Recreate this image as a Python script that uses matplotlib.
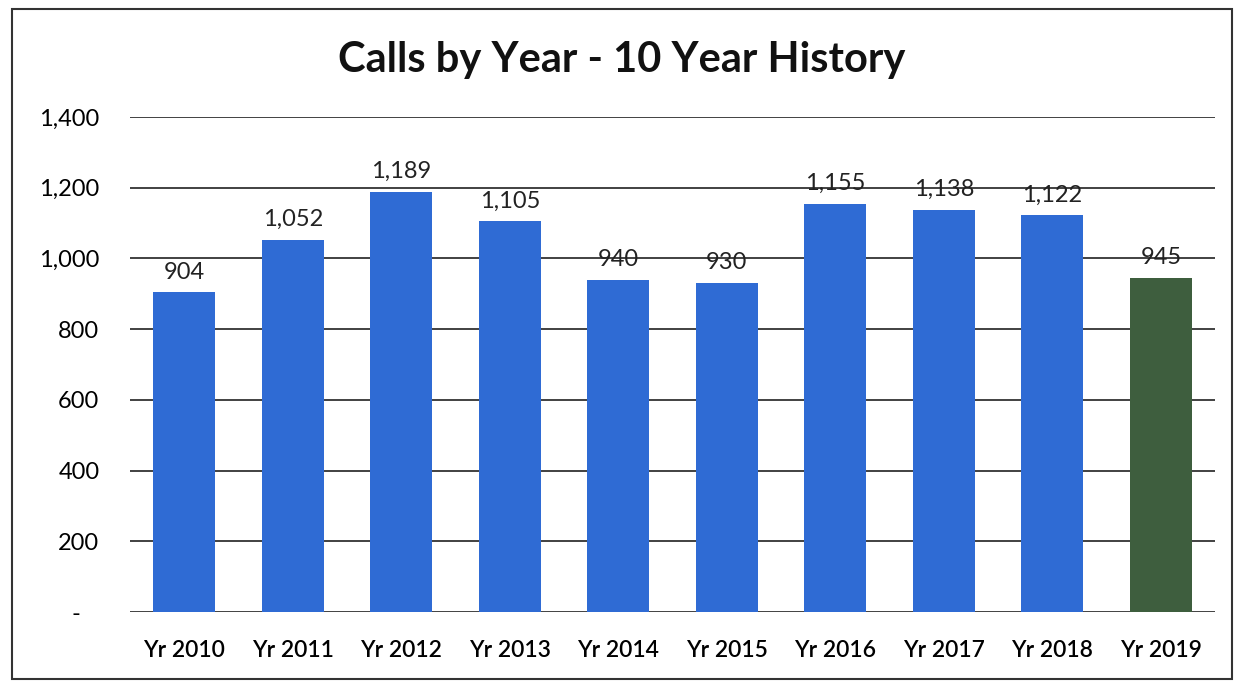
import matplotlib
matplotlib.use("Agg")
import matplotlib.pyplot as plt
from matplotlib.patches import Rectangle
from matplotlib.ticker import FuncFormatter
from matplotlib.transforms import ScaledTranslation

categories = ["Yr 2010", "Yr 2011", "Yr 2012", "Yr 2013", "Yr 2014",
              "Yr 2015", "Yr 2016", "Yr 2017", "Yr 2018", "Yr 2019"]
calls = [904, 1052, 1189, 1105, 940, 930, 1155, 1138, 1122, 945]
bar_colors = ["#2f6bd4"] * 9 + ["#3e5e3e"]
yticks = [0, 200, 400, 600, 800, 1000, 1200, 1400]

plt.rcParams['font.family'] = ['Lato', 'DejaVu Sans']

fig = plt.figure(figsize=(12.43, 6.87), dpi=100)
ax = fig.add_axes([0.1046, 0.109, 0.873, 0.7207])

x = range(len(categories))
ax.bar(x, calls, width=0.57, color=bar_colors, zorder=3)
for xi, v in zip(x, calls):
    ax.text(xi, v + 28, f"{v:,}", ha="center", va="bottom", fontsize=17, color="#222222", zorder=4)

ax.set_xlim(-0.5, len(categories) - 0.5)
ax.set_ylim(0, 1400)
ax.set_yticks(yticks)
ax.yaxis.set_major_formatter(FuncFormatter(lambda v, p: "-" if v == 0 else f"{int(v):,}"))
ax.set_xticks(list(x))
ax.set_xticklabels(categories, fontsize=16.5, fontweight="semibold")
ax.tick_params(axis="y", labelsize=17, length=0, pad=22)
ax.tick_params(axis="x", length=0, pad=20)
ax.grid(axis="y", color="#333333", linewidth=1.3, zorder=0)
for s in ax.spines.values():
    s.set_visible(False)

# accounting-style dash for zero sits left of the right-aligned numbers
zero_lbl = ax.yaxis.get_major_ticks()[0].label1
zero_lbl.set_transform(zero_lbl.get_transform() + ScaledTranslation(-14 / 72, 0, fig.dpi_scale_trans))

fig.text(0.5, 0.912, "Calls by Year - 10 Year History", ha="center", va="center",
         fontsize=30, fontweight="bold", color="#111111")

fig.patches.append(Rectangle((12 / 1243, 8 / 687), 1220 / 1243, 670 / 687,
                             transform=fig.transFigure, fill=False,
                             edgecolor="#333333", linewidth=1.5))

fig.savefig("out.png", dpi=100)
